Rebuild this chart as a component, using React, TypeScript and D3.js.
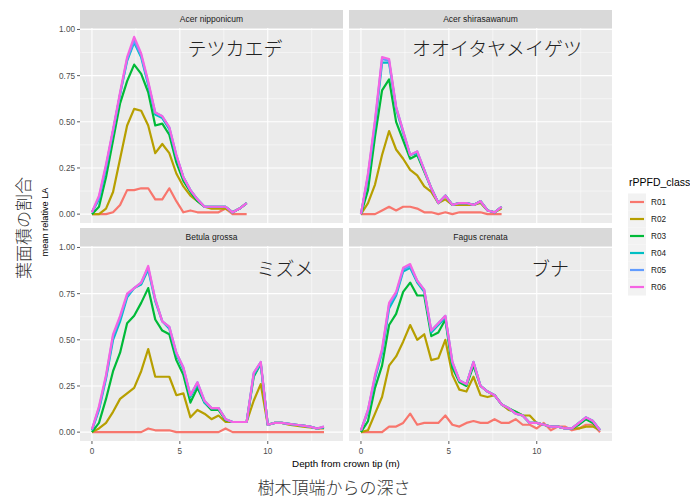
import React from 'react';
import * as d3 from 'd3';

const species = ['Acer nipponicum', 'Acer shirasawanum', 'Betula grossa', 'Fagus crenata'];
const jpNames = ['テツカエデ', 'オオイタヤメイゲツ', 'ミズメ', 'ブナ'];
const classes = ['R01', 'R02', 'R03', 'R04', 'R05', 'R06'];
const classColors = ['#F8766D', '#B79F00', '#00BA38', '#00BFC4', '#619CFF', '#F564E3'];

// depth steps (m) from crown tip
const depth = [0, 0.4, 0.8, 1.2, 1.6, 2.0, 2.4, 2.8, 3.2, 3.6, 4.0, 4.4, 4.8, 5.2, 5.6, 6.0, 6.4, 6.8,
    7.2, 7.6, 8.0, 8.4, 8.8, 9.2, 9.6, 10.0, 10.4, 10.8, 11.2, 11.6, 12.0, 12.4, 12.8, 13.2, 13.6];

// rows: R01..R06
const acerNipponicum = [
    [0, 0, 0, 0.01, 0.05, 0.13, 0.13, 0.14, 0.14, 0.08, 0.08, 0.14, 0.07, 0.01, 0.02, 0.01, 0.01, 0.01, 0.01, 0.03, 0, 0, 0],
    [0, 0, 0.03, 0.12, 0.3, 0.48, 0.57, 0.56, 0.48, 0.33, 0.38, 0.33, 0.22, 0.15, 0.1, 0.07, 0.04, 0.03, 0.03, 0.03, 0.01, 0.03, 0.06],
    [0, 0.04, 0.2, 0.4, 0.6, 0.72, 0.81, 0.76, 0.66, 0.48, 0.49, 0.43, 0.28, 0.18, 0.12, 0.07, 0.04, 0.04, 0.04, 0.04, 0.01, 0.03, 0.06],
    [0.01, 0.08, 0.25, 0.45, 0.65, 0.83, 0.93, 0.85, 0.7, 0.54, 0.52, 0.46, 0.31, 0.2, 0.13, 0.08, 0.04, 0.04, 0.04, 0.04, 0.01, 0.03, 0.06],
    [0.01, 0.09, 0.26, 0.45, 0.65, 0.84, 0.94, 0.86, 0.71, 0.55, 0.53, 0.47, 0.32, 0.2, 0.13, 0.08, 0.04, 0.04, 0.04, 0.04, 0.01, 0.03, 0.06],
    [0.01, 0.1, 0.27, 0.46, 0.66, 0.85, 0.96, 0.87, 0.72, 0.55, 0.53, 0.47, 0.32, 0.2, 0.13, 0.08, 0.04, 0.04, 0.04, 0.04, 0.01, 0.03, 0.06],
];

const acerShirasawanum = [
    [0, 0, 0, 0.02, 0.04, 0.02, 0.04, 0.04, 0.03, 0.01, 0.01, 0, 0.01, 0, 0.01, 0.01, 0.01, 0.01, 0, 0, 0],
    [0, 0.06, 0.16, 0.32, 0.45, 0.35, 0.3, 0.24, 0.21, 0.15, 0.12, 0.06, 0.08, 0.05, 0.05, 0.05, 0.05, 0.06, 0.02, 0.01, 0.03],
    [0, 0.13, 0.42, 0.67, 0.73, 0.5, 0.4, 0.3, 0.32, 0.23, 0.14, 0.06, 0.1, 0.05, 0.06, 0.06, 0.05, 0.07, 0.02, 0.01, 0.04],
    [0, 0.2, 0.48, 0.82, 0.82, 0.57, 0.44, 0.32, 0.33, 0.24, 0.14, 0.06, 0.1, 0.05, 0.06, 0.06, 0.05, 0.07, 0.02, 0.01, 0.04],
    [0, 0.21, 0.5, 0.84, 0.83, 0.58, 0.45, 0.32, 0.34, 0.24, 0.14, 0.06, 0.1, 0.05, 0.06, 0.06, 0.05, 0.07, 0.02, 0.01, 0.04],
    [0, 0.22, 0.51, 0.85, 0.84, 0.58, 0.45, 0.32, 0.34, 0.24, 0.14, 0.06, 0.1, 0.05, 0.06, 0.06, 0.05, 0.07, 0.02, 0.01, 0.04],
];

const betulaGrossa = [
    [0, 0, 0, 0, 0, 0, 0, 0, 0.02, 0.01, 0.01, 0.01, 0, 0, 0, 0, 0, 0, 0, 0.02, 0, 0, 0, 0, 0, 0, 0, 0, 0, 0, 0, 0, 0, 0],
    [0, 0.02, 0.05, 0.11, 0.18, 0.21, 0.24, 0.33, 0.45, 0.3, 0.3, 0.3, 0.2, 0.21, 0.08, 0.12, 0.1, 0.07, 0.09, 0.055, 0.055, 0.055, 0.055, 0.17, 0.26, 0.04, 0.05, 0.05, 0.04, 0.035, 0.03, 0.025, 0.02, 0.02],
    [0, 0.05, 0.18, 0.33, 0.43, 0.59, 0.63, 0.7, 0.78, 0.61, 0.55, 0.53, 0.39, 0.31, 0.16, 0.24, 0.16, 0.12, 0.12, 0.065, 0.055, 0.055, 0.055, 0.3, 0.37, 0.04, 0.05, 0.05, 0.045, 0.04, 0.035, 0.03, 0.02, 0.025],
    [0.01, 0.12, 0.29, 0.5, 0.6, 0.73, 0.78, 0.8, 0.88, 0.71, 0.6, 0.56, 0.42, 0.34, 0.19, 0.26, 0.16, 0.13, 0.13, 0.07, 0.055, 0.055, 0.055, 0.31, 0.37, 0.04, 0.05, 0.05, 0.045, 0.04, 0.035, 0.03, 0.02, 0.025],
    [0.015, 0.13, 0.3, 0.52, 0.62, 0.74, 0.78, 0.81, 0.89, 0.72, 0.6, 0.57, 0.43, 0.35, 0.2, 0.27, 0.17, 0.13, 0.13, 0.07, 0.055, 0.055, 0.055, 0.32, 0.38, 0.04, 0.05, 0.05, 0.045, 0.04, 0.035, 0.03, 0.02, 0.03],
    [0.015, 0.14, 0.31, 0.53, 0.63, 0.75, 0.78, 0.81, 0.9, 0.72, 0.6, 0.57, 0.43, 0.35, 0.2, 0.27, 0.17, 0.13, 0.13, 0.07, 0.055, 0.055, 0.055, 0.32, 0.38, 0.04, 0.05, 0.05, 0.045, 0.04, 0.035, 0.03, 0.02, 0.03],
];

const fagusCrenata = [
    [0, 0, 0, 0, 0.03, 0.03, 0.05, 0.1, 0.04, 0.05, 0.05, 0.05, 0.09, 0.04, 0.03, 0.05, 0.06, 0.05, 0.05, 0.07, 0.05, 0.05, 0.07, 0.04, 0.04, 0.02, 0.05, 0.01, 0.03, 0.03, 0.01, 0.02, 0.04, 0.04, 0],
    [0, 0.01, 0.1, 0.19, 0.36, 0.41, 0.49, 0.58, 0.5, 0.53, 0.39, 0.4, 0.5, 0.31, 0.23, 0.22, 0.3, 0.2, 0.19, 0.2, 0.15, 0.12, 0.11, 0.09, 0.09, 0.05, 0.04, 0.03, 0.03, 0.02, 0.02, 0.02, 0.03, 0.03, 0.01],
    [0, 0.06, 0.24, 0.36, 0.58, 0.64, 0.76, 0.81, 0.74, 0.74, 0.52, 0.54, 0.61, 0.35, 0.27, 0.25, 0.36, 0.25, 0.22, 0.2, 0.15, 0.13, 0.11, 0.09, 0.05, 0.05, 0.04, 0.03, 0.03, 0.02, 0.02, 0.04, 0.07, 0.05, 0.01],
    [0.01, 0.11, 0.29, 0.43, 0.67, 0.74, 0.87, 0.89, 0.81, 0.76, 0.54, 0.58, 0.62, 0.37, 0.28, 0.26, 0.38, 0.25, 0.22, 0.2, 0.15, 0.13, 0.1, 0.09, 0.05, 0.05, 0.04, 0.03, 0.03, 0.02, 0.02, 0.05, 0.08, 0.06, 0.01],
    [0.01, 0.12, 0.3, 0.44, 0.69, 0.75, 0.88, 0.9, 0.82, 0.77, 0.55, 0.59, 0.63, 0.38, 0.28, 0.26, 0.38, 0.25, 0.22, 0.2, 0.15, 0.13, 0.1, 0.09, 0.05, 0.05, 0.04, 0.03, 0.03, 0.02, 0.02, 0.05, 0.08, 0.06, 0.01],
    [0.01, 0.12, 0.31, 0.45, 0.7, 0.76, 0.89, 0.91, 0.82, 0.77, 0.55, 0.59, 0.63, 0.38, 0.28, 0.26, 0.38, 0.25, 0.22, 0.2, 0.15, 0.13, 0.1, 0.09, 0.05, 0.05, 0.04, 0.03, 0.03, 0.02, 0.02, 0.05, 0.08, 0.06, 0.01],
];

const panelData = [acerNipponicum, acerShirasawanum, betulaGrossa, fagusCrenata];

const xMajor = [0, 5, 10];
const xMinor = [2.5, 7.5, 12.5];
const yMajor = [0, 0.25, 0.5, 0.75, 1];
const yMinor = [0.125, 0.375, 0.625, 0.875];
const yLabels = ['0.00', '0.25', '0.50', '0.75', '1.00'];

const FONT = "'Liberation Sans', Arial, sans-serif";
const JP = "'Noto Sans CJK JP', sans-serif";

// panel columns [left, right] and strip tops / panel bottoms
const cols = [[80, 343], [349, 612]];
const stripTops = [10, 228];
const bottoms = [223, 441];
const stripH = 18;

// annotation anchors (centre x, baseline)
const jpPos = [[235, 56], [497, 56], [285, 276], [550, 276]];

function Panel({ idx }: { idx: number }) {
    const c = idx % 2;
    const r = Math.floor(idx / 2);
    const [left, right] = cols[c];
    const stripTop = stripTops[r];
    const top = stripTop + stripH;
    const bottom = bottoms[r];

    const x = d3.scaleLinear().domain([-0.68, 14.28]).range([left, right]);
    const y = d3.scaleLinear().domain([-0.048, 1.008]).range([bottom, top]);
    const line = d3
        .line<[number, number]>()
        .x((d) => x(d[0]))
        .y((d) => y(d[1]));

    const series = panelData[idx];

    return (
        <g>
            <rect x={left} y={stripTop} width={right - left} height={stripH} fill="#D9D9D9" />
            <text
                x={(left + right) / 2}
                y={stripTop + stripH / 2 + 3}
                textAnchor="middle"
                fontSize={8.5}
                fill="#1A1A1A"
                fontFamily={FONT}
            >
                {species[idx]}
            </text>
            <rect x={left} y={top} width={right - left} height={bottom - top} fill="#EBEBEB" />
            {xMinor.map((v) => (
                <line key={'xm' + v} x1={x(v)} x2={x(v)} y1={top} y2={bottom} stroke="#fff" strokeWidth={0.5} />
            ))}
            {yMinor.map((v) => (
                <line key={'ym' + v} x1={left} x2={right} y1={y(v)} y2={y(v)} stroke="#fff" strokeWidth={0.5} />
            ))}
            {xMajor.map((v) => (
                <line key={'xM' + v} x1={x(v)} x2={x(v)} y1={top} y2={bottom} stroke="#fff" strokeWidth={1.1} />
            ))}
            {yMajor.map((v) => (
                <line key={'yM' + v} x1={left} x2={right} y1={y(v)} y2={y(v)} stroke="#fff" strokeWidth={1.1} />
            ))}
            {series.map((vals, si) => (
                <path
                    key={classes[si]}
                    d={line(vals.map((v, i) => [depth[i], v] as [number, number])) || ''}
                    fill="none"
                    stroke={classColors[si]}
                    strokeWidth={2.2}
                    strokeLinejoin="round"
                />
            ))}
            {c === 0 &&
                yMajor.map((v, i) => (
                    <g key={'yt' + v}>
                        <line x1={left - 3} x2={left} y1={y(v)} y2={y(v)} stroke="#333" strokeWidth={0.8} />
                        <text
                            x={left - 5}
                            y={y(v) + 3}
                            textAnchor="end"
                            fontSize={8.2}
                            fill="#4D4D4D"
                            fontFamily={FONT}
                        >
                            {yLabels[i]}
                        </text>
                    </g>
                ))}
            {r === 1 &&
                xMajor.map((v) => (
                    <g key={'xt' + v}>
                        <line x1={x(v)} x2={x(v)} y1={bottom} y2={bottom + 3} stroke="#333" strokeWidth={0.8} />
                        <text
                            x={x(v)}
                            y={bottom + 12.5}
                            textAnchor="middle"
                            fontSize={8.2}
                            fill="#4D4D4D"
                            fontFamily={FONT}
                        >
                            {v}
                        </text>
                    </g>
                ))}
            <text
                x={jpPos[idx][0]}
                y={jpPos[idx][1]}
                textAnchor="middle"
                fontSize={19}
                fontWeight={300}
                fill="#222"
                fontFamily={JP}
            >
                {jpNames[idx]}
            </text>
        </g>
    );
}

export default function App() {
    return (
        <svg
            width={690}
            height={498}
            style={{ position: 'absolute', left: 0, top: 0, background: '#fff' }}
        >
            <rect width={690} height={498} fill="#fff" />
            {species.map((s, i) => (
                <Panel key={s} idx={i} />
            ))}
            <text
                transform="translate(48,222) rotate(-90)"
                textAnchor="middle"
                fontSize={9.2}
                fill="#000"
                fontFamily={FONT}
            >
                mean relative LA
            </text>
            <text
                transform="translate(30,228) rotate(-90)"
                textAnchor="middle"
                fontSize={17}
                fontWeight={300}
                fill="#333"
                fontFamily={JP}
            >
                葉面積の割合
            </text>
            <text x={346} y={467} textAnchor="middle" fontSize={9.8} fill="#000" fontFamily={FONT}>
                Depth from crown tip (m)
            </text>
            <text x={334} y={494} textAnchor="middle" fontSize={17} fontWeight={300} fill="#333" fontFamily={JP}>
                樹木頂端からの深さ
            </text>
            <g>
                <text x={629} y={186} fontSize={10.5} fill="#000" fontFamily={FONT}>
                    rPPFD_class
                </text>
                {classes.map((cl, i) => {
                    const cy = 202 + i * 17;
                    return (
                        <g key={cl}>
                            <rect x={628} y={cy - 8.5} width={18} height={17} fill="#F2F2F2" />
                            <line x1={630} x2={644} y1={cy} y2={cy} stroke={classColors[i]} strokeWidth={2.2} />
                            <text x={651} y={cy + 3} fontSize={8.2} fill="#1A1A1A" fontFamily={FONT}>
                                {cl}
                            </text>
                        </g>
                    );
                })}
            </g>
        </svg>
    );
}
